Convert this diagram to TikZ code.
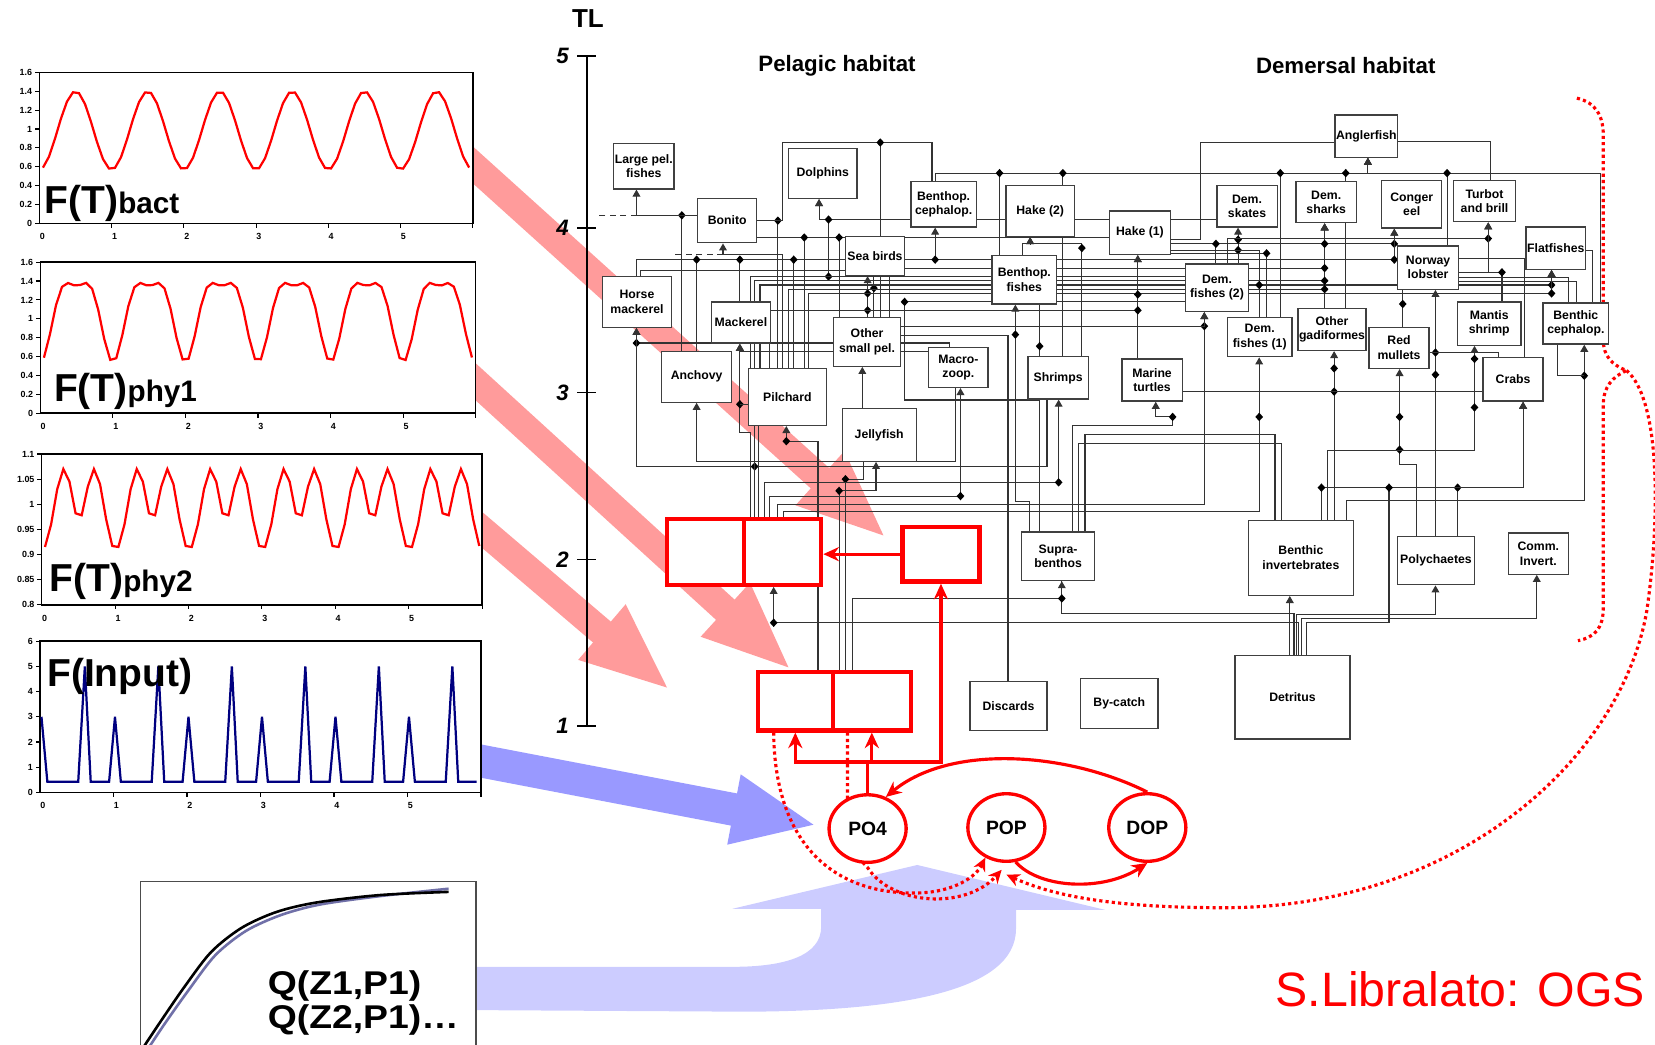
\documentclass[tikz,border=0pt]{standalone}
\usepackage{fontspec}
\setmainfont{Liberation Sans}
\setsansfont{Liberation Sans}
\usetikzlibrary{arrows.meta,shapes.geometric}
\pgfdeclarelayer{back}
\pgfdeclarelayer{web}
\pgfsetlayers{back,web,main}
\definecolor{pinkflow}{RGB}{255,155,155}
\definecolor{blueflow}{RGB}{153,153,255}
\definecolor{lilacflow}{RGB}{204,204,255}
\definecolor{inputline}{RGB}{0,0,128}
\definecolor{qline}{RGB}{112,112,168}
\newcommand{\sz}[1]{\fontsize{#1}{#1}\selectfont}

\begin{document}
\begin{tikzpicture}[x=0.01cm, y=-0.01cm, font=\sffamily,
    sp/.style={draw=black!75, fill=white, line width=0.35pt, inner sep=0.3pt, align=center,
      font=\fontsize{3.3}{3.9}\selectfont\bfseries},
    rbox/.style={draw=red, fill=white, line width=1.15pt},
    nut/.style={ellipse, draw=red, fill=white, line width=0.9pt, minimum width=7.3mm,
      minimum height=6.4mm, inner sep=0pt, font=\sz{5.2}\bfseries},
    web/.style={draw=black!80, line width=0.3pt},
    feed/.style={web, -{Triangle[length=1.9pt,width=2.1pt]}},
    dmd/.style={diamond, fill=black, inner sep=0pt, minimum width=2.2pt, minimum height=2.4pt},
    rline/.style={draw=red, line width=0.85pt},
    rfeed/.style={rline, -{Stealth[length=4.2pt,width=3.8pt]}},
    rdot/.style={draw=red, line width=0.85pt, dash pattern=on 0.85pt off 0.85pt},
    rdotf/.style={rdot, -{Stealth[length=3.6pt,width=3.4pt]}},
    bigflow/.style={draw=pinkflow, line width=2.6mm, -{Triangle[length=8.5mm,width=6.2mm]}},
    inflow/.style={draw=blueflow, line width=3.1mm, -{Triangle[length=8mm,width=6.1mm]}},
    axl/.style={font=\sz{2.4}\bfseries, inner sep=0.6pt},
    big/.style={anchor=base west, inner sep=0pt, font=\sz{10.5}\bfseries}]

\useasboundingbox (0,0) rectangle (1568,990);

% broad arrows behind everything
\begin{pgfonlayer}{back}
  \draw[bigflow] (440,149) -- (840,510);
  \draw[bigflow] (440,352) -- (750,635);
  \draw[bigflow] (445,492) -- (635,654);
  \draw[inflow] (445,719) -- (774,782);
  \fill[lilacflow] (450,916) -- (694,916) .. controls (745,916) and (778,905) .. (778,878)
    -- (778,861) -- (694,861) -- (869,819.5) -- (1047,862) -- (962.6,862) -- (962.6,880)
    .. controls (962.6,940) and (850,958) .. (706,958.5) -- (450,957) -- cycle;
\end{pgfonlayer}

% forcing functions
\begin{scope}[shift={(37.3,211.5)}, x=0.684cm, y=0.892cm]
  \draw[fill=white, line width=0.4pt] (0,0) rectangle (6,1.6);
  \foreach \v in {0,0.2,0.4,0.6,0.8,1,1.2,1.4,1.6}
    \draw[line width=0.3pt] (0,\v) -- ++(-1.2pt,0) node[axl, left] {\v};
  \foreach \k in {1,...,6}
    \draw[line width=0.3pt] (\k,0) -- ++(0,-1.2pt);
  \foreach \k in {0,...,5}
    \node[axl, below=2pt] at (\k+0.04,0) {\k};
  \draw[red, line width=0.6pt] plot[domain=0.05:5.95, samples=72] (\x,{0.985-0.415*cos(360*\x)});
  \node[big] (bact) at (0.064,0.105) {F(T)\sz{8}bact};
\end{scope}

\begin{scope}[shift={(38.2,391.5)}, x=0.687cm, y=0.894cm]
  \draw[fill=white, line width=0.4pt] (0,0) rectangle (6,1.6);
  \foreach \v in {0,0.2,0.4,0.6,0.8,1,1.2,1.4,1.6}
    \draw[line width=0.3pt] (0,\v) -- ++(-1.2pt,0) node[axl, left] {\v};
  \foreach \k in {1,...,6}
    \draw[line width=0.3pt] (\k,0) -- ++(0,-1.2pt);
  \foreach \k in {0,...,5}
    \node[axl, below=2pt] at (\k+0.04,0) {\k};
  \draw[red, line width=0.6pt] plot[domain=0.05:5.95, samples=72]
    (\x,{1.094-0.405*cos(360*\x)-0.149*cos(720*\x)});
  \node[big] (phy1) at (0.18,0.123) {F(T)\sz{8}phy1};
\end{scope}

\begin{scope}[shift={(39.5,954)}, x=0.695cm, y=4.76cm]
  \draw[fill=white, line width=0.4pt] (0,0.8) rectangle (6,1.1);
  \foreach \v in {0.8,0.85,0.9,0.95,1,1.05,1.1}
    \draw[line width=0.3pt] (0,\v) -- ++(-1.2pt,0) node[axl, left] {\v};
  \foreach \k in {1,...,6}
    \draw[line width=0.3pt] (\k,0.8) -- ++(0,-1.2pt);
  \foreach \k in {0,...,5}
    \node[axl, below=2pt] at (\k+0.04,0.8) {\k};
  \draw[red, line width=0.6pt] (0.045,0.915)
    \foreach \k in {0,...,5}{
      \foreach \v [count=\i from 0] in {0.915,0.96,1.03,1.07,1.045,0.982,0.978,1.035,1.07,1.04,0.97,0.917}{
        -- ({\k+\i/12+0.045},\v) } };
  \node[big] (phy2) at (0.10,0.8265) {F(T)\sz{8}phy2};
\end{scope}

\begin{scope}[shift={(37.9,750.7)}, x=0.696cm, y=0.2385cm]
  \draw[fill=white, line width=0.4pt] (0,0) rectangle (6,6);
  \foreach \v in {0,...,6}
    \draw[line width=0.3pt] (0,\v) -- ++(-1.2pt,0) node[axl, left] {\v};
  \foreach \k in {1,...,6}
    \draw[line width=0.3pt] (\k,0) -- ++(0,-1.2pt);
  \foreach \k in {0,...,5}
    \node[axl, below=2pt] at (\k+0.04,0) {\k};
  \draw[inputline, line width=0.6pt] (0.02,3)
    \foreach \k in {0,...,4}{ -- (\k+0.1,0.42) -- (\k+0.52,0.42) -- (\k+0.61,5)
      -- (\k+0.69,0.42) -- (\k+0.94,0.42) -- (\k+1.02,3) }
    -- (5.1,0.42) -- (5.52,0.42) -- (5.61,5) -- (5.69,0.42) -- (5.94,0.42);
  \node[big] (input) at (0.09,4.2) {F(Input)};
\end{scope}

% light curve
\draw[black!70, line width=0.4pt, fill=white] (133,1000) |- (451,835) -- (451,1000);
\draw[qline, line width=0.7pt] plot[smooth] coordinates {(140,994) (156,970) (178,939)
  (204,905) (233,882) (266,867) (303,857) (360,849) (425,842)};
\draw[black, line width=0.7pt] plot[smooth] coordinates {(136,992) (152,968) (174,936)
  (200,902) (229,879) (262,864) (300,855) (360,848) (425,845)};
\node[big, font=\sz{8.6}\bfseries] (q1) at (253,942) {\scalebox{1.17}[1.03]{Q(Z1,P1)}};
\node[big, font=\sz{8.6}\bfseries] (q2) at (253,974) {\scalebox{1.17}[1.03]{Q(Z2,P1)…}};

% trophic level axis
\node[font=\sz{7}\bfseries] (tl) at (557,18) {TL};
\draw[line width=0.4pt] (556,53) -- (556,688);
\foreach \y/\l in {53/5,216/4,372/3,530/2,688/1}{
  \draw[line width=0.4pt] (547,\y) -- (565,\y);
  \node[font=\sz{6}\bfseries\itshape] at (533,\y) {\l};
}
\node[font=\sz{6}\bfseries] (pel) at (793,62) {Pelagic habitat};
\node[font=\sz{6}\bfseries] (dem) at (1275,62) {Demersal habitat};

% food web groups
\node[sp, minimum width=5.6mm, minimum height=4.3mm] (lpf) at (610,157.5) {Large pel.\\fishes};
\node[sp, minimum width=6.5mm, minimum height=4.7mm] (dolph) at (779.5,164.5) {Dolphins};
\node[sp, minimum width=5.6mm, minimum height=4.2mm] (bonito) at (689,209) {Bonito};
\node[sp, minimum width=6.2mm, minimum height=4.3mm] (bceph) at (894,193.5) {Benthop.\\cephalop.};
\node[sp, minimum width=5.6mm, minimum height=3.7mm] (seabirds) at (829,242.5) {Sea birds};
\node[sp, minimum width=6.5mm, minimum height=4.8mm] (hmack) at (603.5,286) {Horse\\mackerel};
\node[sp, minimum width=5.6mm, minimum height=3.9mm] (mack) at (702,305.5) {Mackerel};
\node[sp, minimum width=6.3mm, minimum height=4.6mm] (osp) at (821.5,324) {Other\\small pel.};
\node[sp, minimum width=6.6mm, minimum height=4.8mm] (anch) at (660,357) {Anchovy};
\node[sp, minimum width=7.4mm, minimum height=5.4mm] (pil) at (746,376) {Pilchard};
\node[sp, minimum width=7.0mm, minimum height=5.0mm] (jelly) at (833,412) {Jellyfish};
\node[sp, minimum width=5.6mm, minimum height=3.8mm] (macro) at (908,348) {Macro-\\zoop.};
\node[sp, minimum width=6.5mm, minimum height=4.8mm] (hake2) at (985.5,200) {Hake (2)};
\node[sp, minimum width=5.8mm, minimum height=4.1mm] (hake1) at (1080,220.5) {Hake (1)};
\node[sp, minimum width=6.1mm, minimum height=4.6mm] (bfish) at (970.5,265) {Benthop.\\fishes};
\node[sp, minimum width=5.7mm, minimum height=4.0mm] (shrimps) at (1002.5,358) {Shrimps};
\node[sp, minimum width=5.7mm, minimum height=4.0mm] (turtles) at (1091.5,360) {Marine\\turtles};
\node[sp, minimum width=5.7mm, minimum height=3.9mm] (skates) at (1181.5,195.5) {Dem.\\skates};
\node[sp, minimum width=5.7mm, minimum height=3.9mm] (sharks) at (1256.5,191.5) {Dem.\\sharks};
\node[sp, minimum width=6.0mm, minimum height=4.5mm] (dfish2) at (1153,272.5) {Dem.\\fishes (2)};
\node[sp, minimum width=6.1mm, minimum height=3.7mm] (dfish1) at (1193.5,319.5) {Dem.\\fishes (1)};
\node[sp, minimum width=5.8mm, minimum height=4.0mm] (ogad) at (1262,312) {Other\\gadiformes};
\node[sp, minimum width=5.7mm, minimum height=4.0mm] (angler) at (1294.5,129) {Anglerfish};
\node[sp, minimum width=5.7mm, minimum height=4.5mm] (conger) at (1337.5,193.5) {Conger\\eel};
\node[sp, minimum width=5.9mm, minimum height=3.9mm] (turbot) at (1406.5,190.5) {Turbot\\and brill};
\node[sp, minimum width=5.6mm, minimum height=4.0mm] (flat) at (1474,235) {Flatfishes};
\node[sp, minimum width=5.8mm, minimum height=4.1mm] (nlob) at (1353,253.5) {Norway\\lobster};
\node[sp, minimum width=6.0mm, minimum height=4.1mm] (mantis) at (1411,306.5) {Mantis\\shrimp};
\node[sp, minimum width=6.2mm, minimum height=3.9mm] (bcephb) at (1493,306.5) {Benthic\\cephalop.};
\node[sp, minimum width=5.7mm, minimum height=3.9mm] (mullets) at (1325.5,329.5) {Red\\mullets};
\node[sp, minimum width=5.7mm, minimum height=4.1mm] (crabs) at (1433.5,359.5) {Crabs};
\node[sp, minimum width=6.9mm, minimum height=4.6mm] (supra) at (1002.5,527) {Supra-\\benthos};
\node[sp, minimum width=7.3mm, minimum height=4.6mm] (discards) at (955.5,669) {Discards};
\node[sp, minimum width=7.3mm, minimum height=4.7mm] (bycatch) at (1060.5,666.5) {By-catch};
\node[sp, minimum width=9.9mm, minimum height=7.1mm] (binv) at (1232.5,528.5) {Benthic\\invertebrates};
\node[sp, minimum width=7.3mm, minimum height=4.6mm] (poly) at (1360.5,531) {Polychaetes};
\node[sp, minimum width=5.7mm, minimum height=3.9mm] (comm) at (1457.5,524.5) {Comm.\\Invert.};
\node[sp, minimum width=10.9mm, minimum height=7.9mm] (detritus) at (1224.5,660.5) {Detritus};

% plankton boxes and nutrients
\node[rbox, minimum width=7.3mm, minimum height=6.2mm] (phyA) at (668.5,523) {};
\node[rbox, minimum width=7.3mm, minimum height=6.2mm] (phyB) at (741.5,523) {};
\node[rbox, minimum width=7.3mm, minimum height=5.2mm] (zooS) at (891.5,525) {};
\node[rbox, minimum width=7.1mm, minimum height=5.5mm] (botA) at (753.5,664.5) {};
\node[rbox, minimum width=7.4mm, minimum height=5.5mm] (botB) at (826,664.5) {};
\node[nut] (po4) at (822,785) {PO4};
\node[nut] (pop) at (953.5,784) {POP};
\node[nut] (dop) at (1087,784) {DOP};

\node[anchor=base west, inner sep=0pt, text=red, font=\sz{13}] (sign) at (1208,954) {S.Libralato: OGS};

\begin{pgfonlayer}{web}
  % pelagic links
  \draw[feed] (anch.north -| 646,0) -- (646,204) node[dmd]{} -| (lpf.south -| 603,0);
  \draw[web] (bonito.west |- 0,204) -| (lpf.south -| 603,0);
  \draw[web, dash pattern=on 1.6pt off 1.2pt] (603,204) -- (564,204);
  \draw[web] (pil.north -| 737,0) -- (737,209) node[dmd]{} -- (bonito.east);
  \draw[web] (bonito.east) -| (741,135) -| (bceph.north -| 883,0);
  \draw[web] (seabirds.north -| 834,0) -- (834,135) node[dmd]{} -| (bceph.north -| 883,0);
  \draw[feed] (bceph.west |- 0,208) -| (dolph.south -| 776,0);
  \draw[feed] (pil.north -| 711,0) |- (785,262) node[dmd]{} -- (785,208) node[dmd]{} -| (dolph.south -| 776,0);
  \draw[web] (pil.north -| 711,0) |- (dfish2.west |- 0,262);
  \draw[web] (bonito.east |- 0,225) -- (hake1.west |- 0,225);
  \draw[web] (pil.north -| 762,0) -- (762,225) node[dmd]{} -- (bonito.east |- 0,225);
  \draw[web] (osp.north -| 795,0) -- (795,225) node[dmd]{} -- (hake1.west |- 0,225);
  \draw[feed] (pil.north -| 741,0) |- (685,241) -- (bonito.south -| 685,0);
  \draw[web, dash pattern=on 1.6pt off 1.2pt] (685,241) -- (636,241);
  \draw[web] (hmack.north -| 603,0) |- (seabirds.west |- 0,246);
  \draw[web] (anch.north -| 660,0) -- (660,246) node[dmd]{} -- (seabirds.west |- 0,246);
  \draw[web] (mack.north -| 701,0) -- (701,246) node[dmd]{} -- (seabirds.west |- 0,246);
  \draw[web] (pil.north -| 752,0) -- (752,246) node[dmd]{} -- (seabirds.west |- 0,246);
  \draw[web] (hmack.north -| 607,0) |- (seabirds.west |- 0,256);
  \draw[web] (seabirds.east |- 0,246) -- (bfish.west |- 0,246);
  \draw[feed] (bfish.west |- 0,246) -- (886,246) node[dmd]{} -- (bceph.south -| 886,0);
  \draw[feed] (osp.north -| 822,0) -- (822,294) node[dmd]{} -- (822,278) node[dmd]{} -- (seabirds.south -| 822,0);
  \draw[web] (osp.north -| 828,0) -- (828,273) node[dmd]{} -- (seabirds.south -| 828,0);
  \draw[web] (osp.north -| 834,0) -- (seabirds.south -| 834,0);
  \draw[web, dash pattern=on 1.6pt off 1.2pt] (822,270) -- (774,270);
  \draw[feed] (macro.north -| 900,0) |- (603,325) node[dmd]{} -- (hmack.south -| 603,0);
  \draw[feed] (macro.west |- 0,333) -| (mack.south -| 701,0);
  \draw[feed] (phyB.north -| 711,0) |- (701,410) -- (701,383) node[dmd]{} -- (mack.south -| 701,0);
  \draw[web] (pil.west |- 0,383) -- (701,383);
  \draw[feed] (macro.south -| 905,0) |- (660,437) -- (anch.south -| 660,0);
  \draw[feed] (shrimps.south -| 992,0) |- (715,442) node[dmd]{} -| (hmack.south -| 603,0);
  \draw[web] (phyB.north -| 715,0) -- (pil.south -| 715,0);
  \draw[web] (phyB.north -| 719,0) -- (pil.south -| 719,0);
  \draw[feed] (botA.north -| 775,0) |- (745,418) node[dmd]{} -- (pil.south -| 745,0);
  \draw[feed] (jelly.north -| 817,0) -- (osp.south -| 817,0);
  \draw[feed] (botB.north -| 795,0) -- (795,465) node[dmd]{} -| (jelly.south -| 830,0);
  \draw[web] (botB.north -| 801,0) -- (801,454) node[dmd]{} -| (jelly.south -| 818,0);
  \draw[web] (botB.north -| 808,0) |- (1006,567) -- (supra.south -| 1006,0);
  % pelagic prey towards demersal predators
  \draw[feed] (phyB.north -| 724,0) |- (1003,457) node[dmd]{} -- (shrimps.south -| 1003,0);
  \draw[feed] (phyB.north -| 729,0) |- (910,470) node[dmd]{} -- (macro.south -| 910,0);
  \draw[feed] (phyB.north -| 737,0) |- (1141,478) -- (1141,309) node[dmd]{} -- (dfish2.south -| 1141,0);
  \draw[feed] (phyB.north -| 742,0) |- (1193,485) -- (1193,395) node[dmd]{} -- (dfish1.south -| 1193,0);
  \draw[feed] (osp.north -| 843,0) |- (1255,254) -- (sharks.south -| 1255,0);
  \draw[feed] (pil.north -| 715,0) |- (1255,266) -- (sharks.south -| 1255,0);
  \draw[feed] (pil.north -| 720,0) |- (1470,270) node[dmd]{} -- (flat.south -| 1470,0);
  \draw[feed] (pil.north -| 747,0) |- (1255,274) -- (sharks.south -| 1255,0);
  \draw[feed] (pil.north -| 766,0) |- (1470,278) node[dmd]{} -- (flat.south -| 1470,0);
  \draw[feed] (pil.north -| 729,0) |- (1078,294) -- (hake1.south -| 1078,0);
  \draw[feed] (osp.east |- 0,309) -| (dfish2.south -| 1141,0);
  \draw[web] (discards.north -| 955,0) |- (osp.east |- 0,318);
  % supra-benthos and shrimps
  \draw[web] (supra.north -| 985,0) |- (857,379) -- (857,286) node[dmd]{} -- (dfish2.west |- 0,286);
  \draw[feed] (supra.north -| 975,0) |- (962,475) -- (962,317) node[dmd]{} -- (bfish.south -| 962,0);
  \draw[feed] (supra.north -| 1016,0) |- (1111,403) -- (1111,395) node[dmd]{} -| (turtles.south -| 1095,0);
  \draw[web] (supra.north -| 1028,0) |- (1208,412) -- (binv.north -| 1208,0);
  \draw[web] (supra.north -| 1022,0) |- (1214,420) -- (binv.north -| 1214,0);
  \draw[web] (shrimps.north -| 985,0) -- (985,328) node[dmd]{} -- (bfish.south -| 985,0);
  \draw[web] (shrimps.north -| 1007,0) -- (hake2.south -| 1007,0);
  \draw[feed] (shrimps.north -| 1025,0) -- (1025,235) node[dmd]{} -- (1025,231) -| (hake2.south -| 976,0);
  \draw[feed] (bfish.north -| 969,0) -- (969,231) -| (hake2.south -| 976,0);
  % anglerfish bus
  \draw[web] (bceph.north -| 886,0) -- (886,164) -- (1516,164) -- (bcephb.north -| 1516,0);
  \draw[feed] (bfish.north -| 947,0) -- (947,164) node[dmd]{} -| (angler.south -| 1296,0);
  \draw[feed] (hake2.north -| 1007,0) -- (1007,164) node[dmd]{} -| (angler.south -| 1296,0);
  \draw[feed] (dfish1.north -| 1213,0) -- (1213,164) node[dmd]{} -| (angler.south -| 1296,0);
  \draw[feed] (sharks.north -| 1275,0) -- (1275,164) node[dmd]{} -| (angler.south -| 1296,0);
  \draw[feed] (nlob.north -| 1371,0) -- (1371,164) node[dmd]{} -| (angler.south -| 1296,0);
  \draw[web] (ogad.north -| 1275,0) -- (sharks.south -| 1275,0);
  \draw[web] (angler.east |- 0,134) -| (turbot.north -| 1412,0);
  \draw[web] (angler.west |- 0,135) -| (1137,227) -- (hake1.east |- 0,227);
  % demersal links
  \draw[web] (bceph.east |- 0,208) -- (hake2.west |- 0,208);
  \draw[web] (hake2.east |- 0,208) -- (hake1.west |- 0,208);
  \draw[web] (hake1.east |- 0,208) -- (skates.west |- 0,208);
  \draw[feed] (hake1.east |- 0,231) -- (1321,231) node[dmd]{} -- (conger.south -| 1321,0);
  \draw[feed] (bfish.east |- 0,246) -- (1321,246) node[dmd]{} -- (conger.south -| 1321,0);
  \draw[feed] (turtles.north -| 1078,0) -- (1078,294) node[dmd]{} -- (1078,279) node[dmd]{} -- (hake1.south -| 1078,0);
  \draw[feed] (dfish2.north -| 1173,0) -- (1173,237) node[dmd]{} -- (1173,227) node[dmd]{} -- (skates.south -| 1173,0);
  \draw[web] (dfish2.north -| 1152,0) -- (1152,231) node[dmd]{} -- (hake1.east |- 0,231);
  \draw[web] (hake1.east |- 0,237) -| (1193,270) node[dmd]{} -- (dfish1.north -| 1193,0);
  \draw[web] (hake1.east |- 0,240) -- (1200,240) node[dmd]{} -- (dfish1.north -| 1200,0);
  \draw[feed] (ogad.north -| 1255,0) -- (1255,274) node[dmd]{} -- (1255,266) node[dmd]{} -- (1255,254) node[dmd]{}
    -- (1255,231) node[dmd]{} -- (sharks.south -| 1255,0);
  \draw[feed] (dfish2.north -| 1163,0) |- (1410,226) node[dmd]{} -- (turbot.south -| 1410,0);
  \draw[feed] (nlob.east |- 0,258) -| (turbot.south -| 1410,0);
  \draw[web] (nlob.east |- 0,258) -- (1423,258) node[dmd]{} -- (mantis.north -| 1423,0);
  \draw[web] (flat.east |- 0,237) -| (bcephb.north -| 1509,0);
  \draw[web] (nlob.east |- 0,263) -| (bcephb.north -| 1486,0);
  \draw[web] (nlob.east |- 0,267) -| (bcephb.north -| 1494,0);
  \draw[web] (nlob.south -| 1329,0) -- (1329,288) node[dmd]{} -- (mullets.north -| 1329,0);
  \draw[feed] (poly.north -| 1360,0) -- (1360,355) node[dmd]{} -- (1360,334) node[dmd]{} -- (nlob.south -| 1360,0);
  \draw[feed] (poly.north -| 1342,0) |- (1326,440) -- (1326,426) node[dmd]{} -- (1326,395) node[dmd]{} -- (mullets.south -| 1326,0);
  \draw[feed] (binv.north -| 1258,0) |- (1397,427) -- (1397,386) node[dmd]{} -- (1397,340) node[dmd]{} -- (mantis.south -| 1397,0);
  \draw[feed] (binv.north -| 1252,0) -- (1252,462) node[dmd]{} -| (crabs.south -| 1443,0);
  \draw[feed] (poly.north -| 1381,0) -- (1381,462) node[dmd]{} -| (crabs.south -| 1443,0);
  \draw[feed] (detritus.north -| 1238,0) |- (1316,590) -- (1316,462) node[dmd]{} -| (crabs.south -| 1443,0);
  \draw[feed] (binv.north -| 1276,0) |- (1501,474) -- (1501,356) node[dmd]{} -- (bcephb.south -| 1501,0);
  \draw[web] (bcephb.south -| 1476,0) |- (1501,356);
  \draw[feed] (binv.north -| 1264,0) -- (1264,371) node[dmd]{} -- (1264,349) node[dmd]{} -- (ogad.south -| 1264,0);
  \draw[web] (turtles.east |- 0,371) -- (crabs.west |- 0,371);
  \draw[web] (mullets.east |- 0,334) -| (crabs.north -| 1420,0);
  \draw[web] (crabs.north -| 1444,0) |- (nlob.east |- 0,245);
  % detritus
  \draw[feed] (detritus.north -| 1233,0) |- (1456,586) -- (comm.south -| 1456,0);
  \draw[feed] (detritus.north -| 1228,0) |- (1360,582) -- (poly.south -| 1360,0);
  \draw[feed] (detritus.north -| 1222,0) -- (binv.south -| 1222,0);
  \draw[feed] (detritus.north -| 1226,0) |- (1006,581) -- (1006,567) node[dmd]{} -- (supra.south -| 1006,0);
  \draw[feed] (detritus.north -| 1230,0) |- (733,590) node[dmd]{} -- (phyB.south -| 733,0);

  % nutrient cycle
  \draw[rfeed] (zooS.west) -- (zooS.west -| phyB.east);
  \coordinate (pj) at (823,722);
  \draw[rfeed] (po4.north) -- (po4.north |- pj) -| (botA.south);
  \draw[rfeed] (po4.north) -- (po4.north |- pj) -| (botB.south);
  \draw[rfeed] (po4.north) -- (po4.north |- pj) -| (zooS.south);
  \draw[rfeed] (dop.north) .. controls (1010,712) and (900,705) .. (po4.60);
  \draw[rfeed] (pop.-75) .. controls (985,842) and (1045,845) .. (dop.south);
  \draw[rdotf] (botA.south -| 733,0) .. controls (734,800) and (790,848) .. (870,846)
    .. controls (905,845) and (925,830) .. (pop.-125);
  \draw[rdotf] (botB.south -| 803,0) -- (803,760) .. controls (806,800) and (812,812) .. (822,822)
    .. controls (845,858) and (915,862) .. ([xshift=-0.45mm,yshift=-0.65mm]pop.south);
  \coordinate (brace) at (1541,351);
  \draw[rdot] (1494,93) .. controls (1512,97) and (1519,110) .. (1519,128) -- (1519,322)
    .. controls (1519,338) and (1528,346) .. (brace)
    .. controls (1528,357) and (1519,366) .. (1519,384) -- (1519,576)
    .. controls (1519,596) and (1510,604) .. (1495,607);
  \draw[rdotf] (brace) .. controls (1575,380) and (1572,500) .. (1560,580)
    .. controls (1535,720) and (1380,860) .. (1160,860)
    .. controls (1060,860) and (1000,850) .. ([yshift=-1.1mm]pop.south);
\end{pgfonlayer}
\end{tikzpicture}
\end{document}
